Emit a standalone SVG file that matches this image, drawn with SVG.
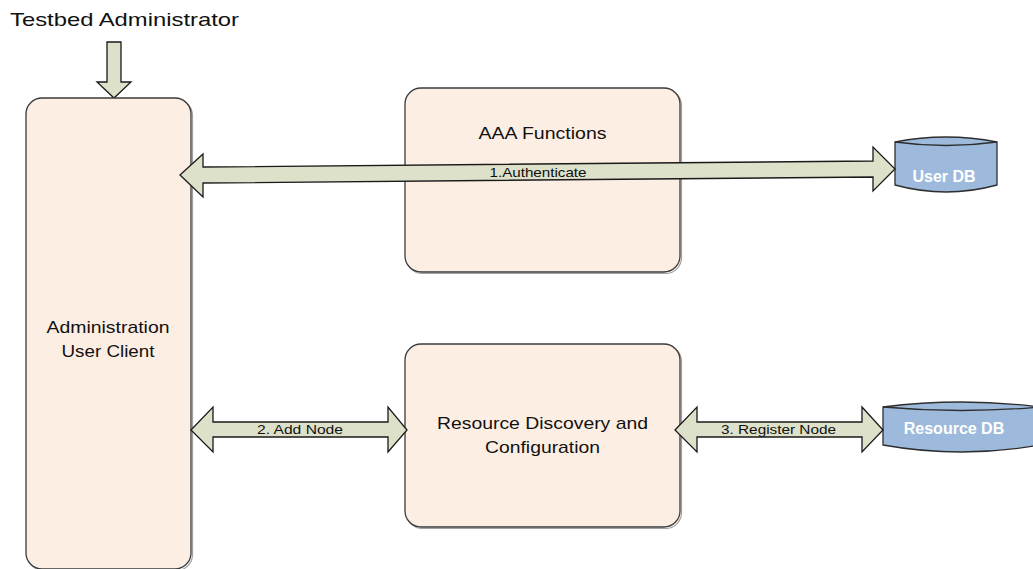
<svg xmlns="http://www.w3.org/2000/svg" width="1033" height="569" viewBox="0 0 1033 569">
  <style>
    .box { fill: #FDEEE3; stroke: #3A3A3A; stroke-width: 1.3; }
    .shade { fill: none; stroke: #A0A0A0; stroke-width: 1.2; }
    .arrow { fill: #DDE1CA; stroke: #1A1A1A; stroke-width: 1.3; stroke-linejoin: miter; }
    .db { fill: #9DBADC; stroke: #2E2E2E; stroke-width: 1.3; }
    .title { font-family: "Liberation Sans", Arial, sans-serif; font-size: 17px; fill: #111; text-anchor: middle; }
    .label { font-family: "Liberation Sans", Arial, sans-serif; font-size: 13px; fill: #111; text-anchor: middle; }
    .dbtext { font-family: "Liberation Sans", Arial, sans-serif; font-weight: bold; font-size: 16px; fill: #FFFFFF; text-anchor: middle; }
  </style>

  <rect width="1033" height="569" fill="#FFFFFF"/>

  <!-- actor caption and its entry arrow -->
  <g id="actor">
    <text x="10" y="26" font-family="Liberation Sans, Arial, sans-serif" font-size="19" fill="#111" textLength="229" lengthAdjust="spacingAndGlyphs">Testbed Administrator</text>
    <polygon class="arrow" points="107,42 121,42 121,82 131,82 114,98 97,82 107,82"/>
  </g>

  <!-- administration client -->
  <g id="admin-client">
    <rect class="shade" x="27.5" y="99.5" width="165" height="471" rx="16"/>
    <rect class="box" x="26" y="98" width="165" height="471" rx="16"/>
    <text class="title" x="108" y="333" textLength="123" lengthAdjust="spacingAndGlyphs">Administration</text>
    <text class="title" x="108" y="357" textLength="93" lengthAdjust="spacingAndGlyphs">User Client</text>
  </g>

  <!-- AAA functions -->
  <g id="aaa">
    <rect class="shade" x="406.5" y="89.5" width="275" height="184" rx="16"/>
    <rect class="box" x="405" y="88" width="275" height="184" rx="16"/>
    <text class="title" x="542.5" y="139" textLength="128" lengthAdjust="spacingAndGlyphs">AAA Functions</text>
  </g>

  <!-- resource discovery -->
  <g id="resource-discovery">
    <rect class="shade" x="406.5" y="345.5" width="275" height="183" rx="16"/>
    <rect class="box" x="405" y="344" width="275" height="183" rx="16"/>
    <text class="title" x="542.5" y="429" textLength="211" lengthAdjust="spacingAndGlyphs">Resource Discovery and</text>
    <text class="title" x="542.5" y="453" textLength="115" lengthAdjust="spacingAndGlyphs">Configuration</text>
  </g>

  <!-- user database -->
  <g id="user-db">
    <path class="db" d="M895,142 Q946,132 997,142 L997,185 Q946,199 895,185 Z"/>
    <path d="M895,142 Q946,149 997,142" fill="none" stroke="#2E2E2E" stroke-width="1.3"/>
    <text class="dbtext" x="944" y="182">User DB</text>
  </g>

  <!-- resource database -->
  <g id="resource-db">
    <path class="db" d="M883,407 Q961,397 1040,407 L1040,445 Q961,459 883,445 Z"/>
    <path d="M883,407 Q961,414 1040,407" fill="none" stroke="#2E2E2E" stroke-width="1.3"/>
    <text class="dbtext" x="954" y="434">Resource DB</text>
  </g>

  <!-- connectors -->
  <g id="connectors">
    <polygon class="arrow" points="180,175 203,154 203,167 873,161 873,147 895,169 873,191 873,177 203,183 203,197"/>
    <text class="label" x="538" y="177" textLength="97" lengthAdjust="spacingAndGlyphs">1.Authenticate</text>

    <polygon class="arrow" points="191,430 213,407 213,422 388,422 388,407 407,430 388,452 388,437 213,437 213,452"/>
    <text class="label" x="300" y="434" textLength="86" lengthAdjust="spacingAndGlyphs">2. Add Node</text>

    <polygon class="arrow" points="675,430 697,407 697,422 862,422 862,407 883,430 862,452 862,437 697,437 697,452"/>
    <text class="label" x="778.5" y="434" textLength="115" lengthAdjust="spacingAndGlyphs">3. Register Node</text>
  </g>
</svg>
